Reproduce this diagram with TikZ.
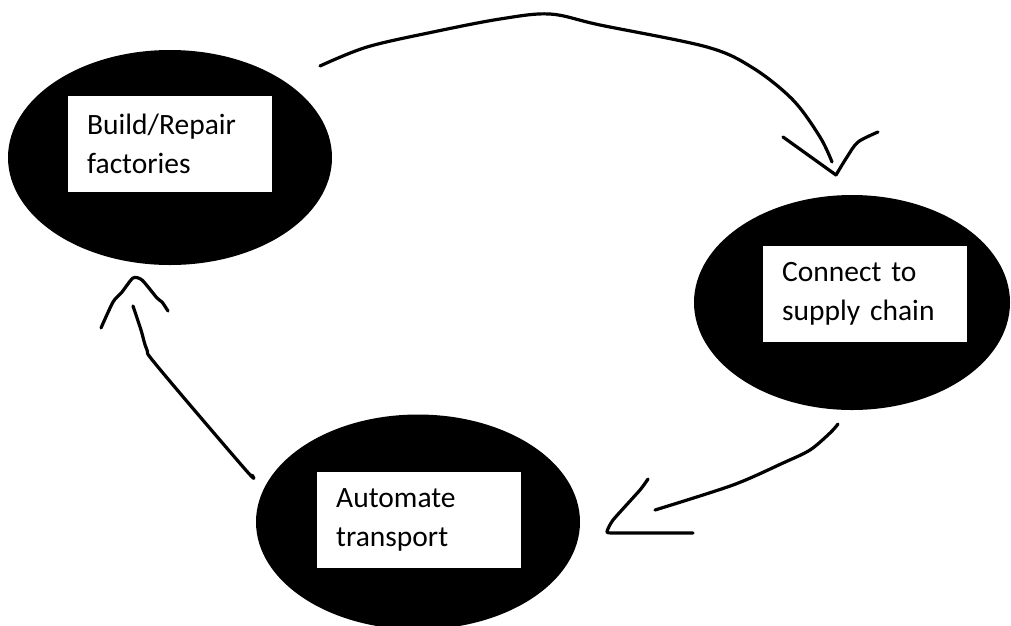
\documentclass[tikz,border=0pt]{standalone}
\usepackage{fontspec}
\setmainfont{Carlito}
\usetikzlibrary{shapes.geometric}
\usetikzlibrary{positioning}

\begin{document}
\begin{tikzpicture}[x=1pt, y=-1pt,
    blob/.style={ellipse, fill=black, inner sep=0pt, minimum width=324pt, minimum height=215pt},
    card/.style={rectangle, fill=white, anchor=north west, minimum width=204pt, minimum height=96pt,
      inner xsep=19pt, inner ysep=0pt, text width=166pt, align=left, font=\fontsize{29.5}{39}\selectfont},
    pen/.style={line width=3.2pt, line cap=round, line join=round}]
  \useasboundingbox (0,0) rectangle (1011,625);

  \node[blob] (build) at (170,157.5) {};
  \node[blob, minimum width=316pt] (connect) at (852,302.5) {};
  \node[blob] (automate) at (418,522) {};

  \node[card] (buildtxt) at (68,96) {Build/Repair\\factories};
  \node[card] (connecttxt) at (763,246) {Connect to\\supply chain};
  \node[card] (automatetxt) at (317,472) {Automate\\transport};

  \coordinate (t1) at (320,66);
  \coordinate (t2) at (832,162);
  \coordinate (tip1) at (836,175);
  \coordinate (r1) at (838,424);
  \coordinate (r2) at (655,510);
  \coordinate (tip2) at (607,532);
  \coordinate (l1) at (252,475);
  \coordinate (l2) at (133,306);
  \coordinate (tip3) at (133,278);

  \draw[pen] plot[smooth, tension=0.55] coordinates {(t1) (367,47) (433,32) (500,19) (550,14) (600,25) (707,47) (753,68) (793,100) (820,137) (t2)};
  \draw[pen] plot[smooth, tension=0.4] coordinates {(783,137) (790,142) (tip1)};
  \draw[pen] plot[smooth, tension=0.5] coordinates {(tip1) (847,157) (858,142) (878,132)};

  \draw[pen] plot[smooth] coordinates {(r1) (830,433) (810,450) (783,463) (733,485) (r2)};
  \draw[pen] plot[smooth, tension=0.3] coordinates {(648,479) (640,490) (613,520) (tip2) (617,533) (693,533)};

  \draw[pen] plot[smooth, tension=0.6] coordinates {(l1) (244,468) (158,367) (147,350) (141,330) (l2)};
  \draw[pen] plot[smooth, tension=0.4] coordinates {(101,328) (113,302) (122,292) (tip3) (142,280) (157,298) (162,302) (168,311)};
\end{tikzpicture}
\end{document}
